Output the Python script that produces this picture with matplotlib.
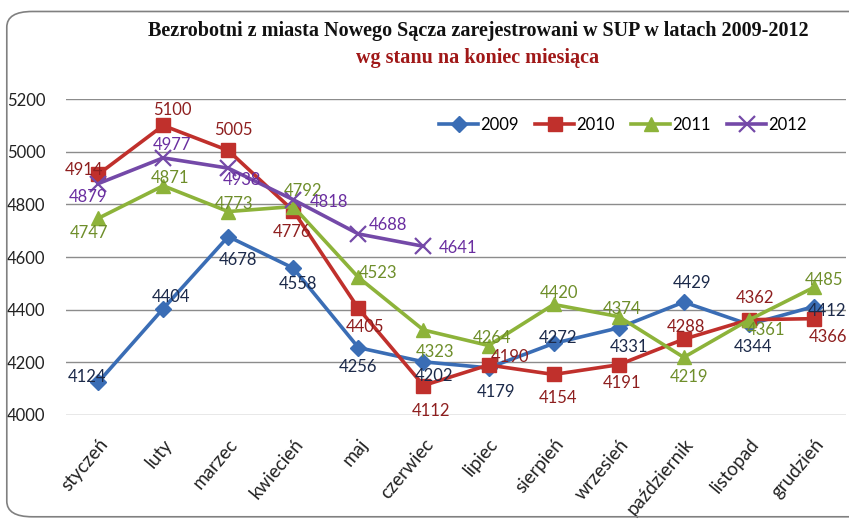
import matplotlib.pyplot as plt
from matplotlib.patches import FancyBboxPatch

months = ["styczeń", "luty", "marzec", "kwiecień", "maj", "czerwiec",
          "lipiec", "sierpień", "wrzesień", "październik", "listopad", "grudzień"]

y2009 = [4124, 4404, 4678, 4558, 4256, 4202, 4179, 4272, 4331, 4429, 4344, 4412]
y2010 = [4914, 5100, 5005, 4776, 4405, 4112, 4190, 4154, 4191, 4288, 4362, 4366]
y2011 = [4747, 4871, 4773, 4792, 4523, 4323, 4264, 4420, 4374, 4219, 4361, 4485]
y2012 = [4879, 4977, 4938, 4818, 4688, 4641]

yticks = [4000, 4200, 4400, 4600, 4800, 5000, 5200]

# label offsets in pixels (dx, dy) for each point
off2009 = [(-11, 5), (8, 12), (10, -23), (5, -16), (0, -19), (11, -14),
           (7, -24), (4, 5), (10, -19), (8, 19), (4, -23), (13, -4)]
off2010 = [(-14, 4), (9, 15), (5, 20), (-1, -21), (7, -19), (8, -25),
           (21, 8), (4, -24), (3, -18), (2, 12), (6, 22), (14, -18)]
off2011 = [(-9, -15), (7, 8), (6, 8), (10, 16), (20, 4), (12, -22),
           (3, 8), (5, 11), (3, 8), (5, -20), (17, -10), (10, 7)]
off2012 = [(-10, -13), (9, 13), (14, -12), (36, -2), (30, 9), (35, -2)]


def main():
    plt.rcParams['font.family'] = ['Lato', 'DejaVu Sans']
    fig = plt.figure(figsize=(8.49, 5.22), dpi=100)
    ax = fig.add_axes([0.0772, 0.205, 0.9198, 0.605])

    # rounded chart border
    border = FancyBboxPatch((0.008, 0.01), 1.05, 0.968, boxstyle="round,pad=0,rounding_size=0.03",
                            transform=fig.transFigure, facecolor='none', edgecolor='#808080',
                            linewidth=1.2, clip_on=False)
    fig.patches.append(border)

    series = [
        ("2009", y2009, off2009, '#3A6DB5', '#1C2A4A', 'D', 8, 1),
        ("2010", y2010, off2010, '#C0302C', '#8E1F1F', 's', 10, 1),
        ("2011", y2011, off2011, '#8DB33A', '#6E8E2A', '^', 10, 1),
        ("2012", y2012, off2012, '#7449A8', '#6A2EA0', 'x', 11, 1.6),
    ]

    for name, vals, offs, col, lcol, mk, ms, mew in series:
        x = list(range(len(vals)))
        ax.plot(x, vals, color=col, linewidth=2.6, marker=mk, markersize=ms,
                markeredgewidth=mew, label=name)
        for i, v in enumerate(vals):
            ax.annotate(str(v), (i, v), xytext=offs[i], textcoords='offset pixels',
                        ha='center', va='center', color=lcol, fontsize=12)

    ax.set_xlim(-0.5, 11.5)
    ax.set_ylim(4000, 5200)
    ax.set_yticks(yticks)
    ax.set_yticklabels([str(t) for t in yticks], ha='left')
    ax.set_xticks(range(12))
    ax.set_xticklabels(months, rotation=50, ha='right', rotation_mode='anchor')
    ax.tick_params(axis='y', length=0, pad=42, labelsize=12, colors='#222222')
    ax.tick_params(axis='x', length=0, pad=15, labelsize=13.5, colors='#222222')
    ax.grid(axis='y', color='#8C8C8C', linewidth=1)
    ax.set_axisbelow(True)
    for s in ax.spines.values():
        s.set_visible(False)

    fig.text(0.563, 0.941, "Bezrobotni z miasta Nowego Sącza zarejestrowani w SUP w latach 2009-2012",
             ha='center', va='center', fontsize=14.5, fontweight='bold', family='Liberation Serif',
             color='#111111')
    fig.text(0.563, 0.889, "wg stanu na koniec miesiąca", ha='center', va='center', fontsize=14.5,
             fontweight='bold', family='Liberation Serif', color='#A01818')

    fig.legend(loc='center', bbox_to_anchor=(0.734, 0.760), ncol=4, frameon=False, fontsize=12,
               handlelength=2.3, handletextpad=0.15, columnspacing=1.0)

    plt.savefig('out.png', dpi=100)


if __name__ == '__main__':
    main()
